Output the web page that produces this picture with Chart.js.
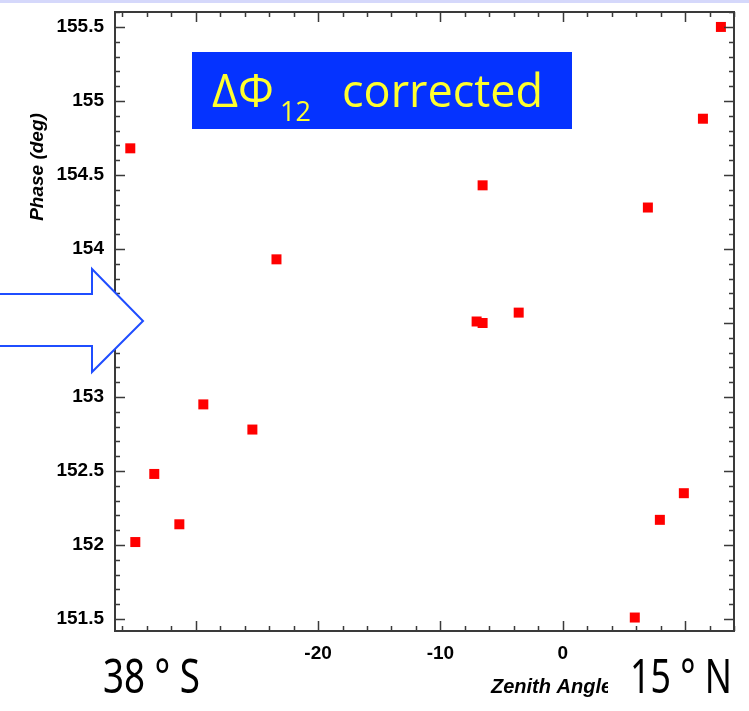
<!DOCTYPE html>
<html>
<head>
<meta charset="utf-8">
<script src="https://cdn.jsdelivr.net/npm/chart.js@4.4.1/dist/chart.umd.min.js"></script>
<style>
  html, body { margin: 0; padding: 0; background: #fff; }
  canvas { display: block; }
</style>
</head>
<body>
<canvas id="phaseChart" width="749" height="711"></canvas>
<script>
// ===== DATA =====
const zenithAngles = [-35.35, -34.94, -33.39, -31.34, -29.38, -25.37, -23.40, -7.04, -6.55, -6.55, -3.60, 5.89, 6.96, 7.94, 9.90, 11.46, 12.93];
const phases       = [154.68, 152.02, 152.48, 152.14, 152.95, 152.78, 153.93, 153.51, 153.50, 154.43, 153.57, 151.51, 154.28, 152.17, 152.35, 154.88, 155.50];

const xTickValues = [-30, -20, -10, 0, 10];
const xTickLabels = ['', '-20', '-10', '0', ''];
const yTickValues = [151.5, 152, 152.5, 153, 153.5, 154, 154.5, 155, 155.5];
const yTickLabels = ['151.5', '152', '152.5', '153', '153.5', '154', '154.5', '155', '155.5'];

const xRange = [-36.6, 14.0];
const yRange = [151.419, 155.601];

const AXIS_COLOR = '#3a3a3a';
const tickFont = { family: "'Liberation Sans', Arial, sans-serif", weight: 'bold', size: 19 };

// ===== DECORATION PLUGIN =====
const frameDecor = {
  id: 'frameDecor',
  beforeDraw(chart) {
    const ctx = chart.ctx;
    ctx.save();
    ctx.fillStyle = '#ffffff';
    ctx.fillRect(0, 0, chart.width, chart.height);
    ctx.fillStyle = '#d5d8fb';
    ctx.fillRect(0, 0, chart.width, 3);
    ctx.restore();
  },
  afterDatasetsDraw(chart) {
    const { ctx, chartArea: a, scales: { x, y } } = chart;
    ctx.save();
    ctx.strokeStyle = AXIS_COLOR;
    ctx.lineWidth = 1.5;

    // inward ticks on the x axis (bottom and top)
    for (let k = Math.ceil(xRange[0] / 2); k <= Math.floor(xRange[1] / 2); k++) {
      const v = k * 2;
      const px = Math.round(x.getPixelForValue(v)) + 0.5;
      const len = (v % 10 === 0) ? 10 : 5;
      ctx.beginPath();
      ctx.moveTo(px, a.bottom); ctx.lineTo(px, a.bottom - len);
      ctx.moveTo(px, a.top); ctx.lineTo(px, a.top + len);
      ctx.stroke();
    }
    // inward ticks on the y axis (left and right)
    for (let k = Math.ceil(yRange[0] * 10); k <= Math.floor(yRange[1] * 10); k++) {
      const py = Math.round(y.getPixelForValue(k / 10)) + 0.5;
      const len = (k % 5 === 0) ? 10 : 5;
      ctx.beginPath();
      ctx.moveTo(a.left, py); ctx.lineTo(a.left + len, py);
      ctx.moveTo(a.right, py); ctx.lineTo(a.right - len, py);
      ctx.stroke();
    }

    ctx.lineWidth = 2;
    ctx.strokeRect(a.left, a.top, a.right - a.left, a.bottom - a.top);
    ctx.restore();
  },
  afterDraw(chart) {
    const ctx = chart.ctx;
    ctx.save();

    // outlined arrow pointing at the plot
    ctx.beginPath();
    ctx.moveTo(-4, 294);
    ctx.lineTo(92, 294);
    ctx.lineTo(92, 269);
    ctx.lineTo(143, 321);
    ctx.lineTo(92, 372);
    ctx.lineTo(92, 346);
    ctx.lineTo(-4, 346);
    ctx.closePath();
    ctx.fillStyle = '#ffffff';
    ctx.fill();
    ctx.strokeStyle = '#1f4dff';
    ctx.lineWidth = 2;
    ctx.stroke();

    // title box
    ctx.fillStyle = '#0533ff';
    ctx.fillRect(192, 52, 380, 77);
    ctx.fillStyle = '#ffff2e';
    ctx.textBaseline = 'alphabetic';
    ctx.textAlign = 'left';
    ctx.font = "44px 'Open Sans', sans-serif";
    const fs = 44 * 201 / ctx.measureText('corrected').width;
    ctx.font = fs.toFixed(1) + "px 'Open Sans', sans-serif";
    ctx.fillText('ΔΦ', 212, 107);
    ctx.fillText('corrected', 342, 107);
    ctx.font = "27px 'Open Sans', sans-serif";
    ctx.fillText('12', 280, 121);

    // axis titles
    ctx.fillStyle = '#000';
    ctx.font = "italic bold 20px 'Liberation Sans', Arial, sans-serif";
    ctx.fillText('Zenith Angle (deg)', 491, 693);

    ctx.save();
    ctx.translate(43, 167);
    ctx.rotate(-Math.PI / 2);
    ctx.textAlign = 'center';
    ctx.font = "italic bold 19px 'Liberation Sans', Arial, sans-serif";
    ctx.fillText('Phase (deg)', 0, 0);
    ctx.restore();

    // latitude labels
    ctx.fillStyle = '#ffffff';
    ctx.fillRect(608, 640, 141, 71);
    ctx.fillStyle = '#000';
    ctx.font = "48px 'Noto Sans', sans-serif";
    ctx.fillText('38 ° S', 103, 693, 97);
    ctx.fillText('15 ° N', 630, 693, 102);

    ctx.restore();
  }
};

// ===== CHART =====
new Chart(document.getElementById('phaseChart'), {
  type: 'scatter',
  data: {
    datasets: [{
      data: zenithAngles.map((z, i) => ({ x: z, y: phases[i] })),
      pointStyle: 'rect',
      pointRadius: 7.07,
      pointBorderWidth: 0,
      backgroundColor: '#ff0000',
      borderColor: '#ff0000',
      showLine: false
    }]
  },
  options: {
    responsive: false,
    animation: false,
    events: [],
    layout: { padding: { top: 12, right: 15, left: 0, bottom: 0 } },
    plugins: { legend: { display: false }, tooltip: { enabled: false } },
    scales: {
      x: {
        type: 'linear',
        min: xRange[0],
        max: xRange[1],
        border: { display: false },
        grid: { display: false, drawTicks: true, tickLength: 11 },
        afterBuildTicks: s => { s.ticks = xTickValues.map(v => ({ value: v })); },
        afterFit: s => { s.height = 80; },
        ticks: {
          autoSkip: false,
          maxRotation: 0,
          padding: 0,
          color: '#000',
          font: tickFont,
          callback: (v, i) => xTickLabels[i]
        }
      },
      y: {
        type: 'linear',
        min: yRange[0],
        max: yRange[1],
        border: { display: false },
        grid: { display: false, drawTicks: true, tickLength: 11 },
        afterBuildTicks: s => { s.ticks = yTickValues.map(v => ({ value: v })); },
        afterFit: s => { s.width = 115; },
        ticks: {
          autoSkip: false,
          padding: 0,
          color: '#000',
          font: tickFont,
          callback: (v, i) => yTickLabels[i]
        }
      }
    }
  },
  plugins: [frameDecor]
});
</script>
</body>
</html>
